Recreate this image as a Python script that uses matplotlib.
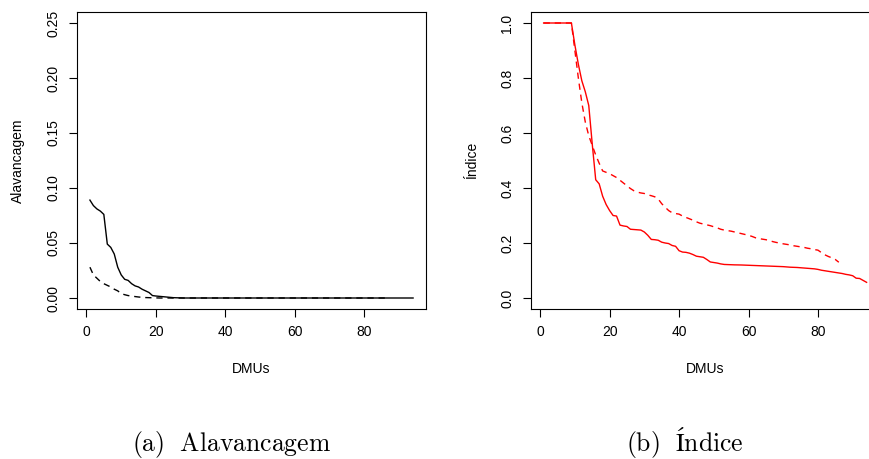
import matplotlib
matplotlib.use("Agg")
import matplotlib.pyplot as plt

plt.rcParams['font.family'] = ['Liberation Sans', 'DejaVu Sans']
plt.rcParams['mathtext.fontset'] = 'cm'

# ---------------- data ----------------
alav_solid = [0.089, 0.084, 0.081, 0.079, 0.076, 0.049, 0.046, 0.040, 0.028, 0.021,
              0.017, 0.016, 0.013, 0.011, 0.010, 0.008, 0.0065, 0.005, 0.0022, 0.0018,
              0.0015, 0.0012, 0.0009, 0.0006, 0.0003, 0.0002, 0.0001,
              0.0, 0.0, 0.0, 0.0, 0.0, 0.0, 0.0, 0.0, 0.0, 0.0,
              0.0, 0.0, 0.0, 0.0, 0.0, 0.0, 0.0, 0.0, 0.0, 0.0,
              0.0, 0.0, 0.0, 0.0, 0.0, 0.0, 0.0, 0.0, 0.0, 0.0,
              0.0, 0.0, 0.0, 0.0, 0.0, 0.0, 0.0, 0.0, 0.0, 0.0,
              0.0, 0.0, 0.0, 0.0, 0.0, 0.0, 0.0, 0.0, 0.0, 0.0,
              0.0, 0.0, 0.0, 0.0, 0.0, 0.0, 0.0, 0.0, 0.0, 0.0,
              0.0, 0.0, 0.0, 0.0, 0.0, 0.0, 0.0]
alav_dashed = [0.028, 0.021, 0.018, 0.015, 0.013, 0.0115, 0.010, 0.008, 0.0065, 0.004,
               0.003, 0.0022, 0.0018, 0.0013, 0.0009, 0.0006, 0.0004, 0.0003, 0.0002, 0.0001,
               0.0, 0.0, 0.0, 0.0, 0.0, 0.0, 0.0, 0.0, 0.0, 0.0,
               0.0, 0.0, 0.0, 0.0, 0.0, 0.0, 0.0, 0.0, 0.0, 0.0,
               0.0, 0.0, 0.0, 0.0, 0.0, 0.0, 0.0, 0.0, 0.0, 0.0,
               0.0, 0.0, 0.0, 0.0, 0.0, 0.0, 0.0, 0.0, 0.0, 0.0,
               0.0, 0.0, 0.0, 0.0, 0.0, 0.0, 0.0, 0.0, 0.0, 0.0,
               0.0, 0.0, 0.0, 0.0, 0.0, 0.0, 0.0, 0.0, 0.0, 0.0,
               0.0, 0.0, 0.0, 0.0, 0.0, 0.0]

ind_solid = [1.0, 1.0, 1.0, 1.0, 1.0, 1.0, 1.0, 1.0, 1.0,
             0.92, 0.85, 0.79, 0.75, 0.70, 0.56, 0.43, 0.415, 0.37, 0.34, 0.318,
             0.30, 0.298, 0.265, 0.262, 0.26, 0.25, 0.249, 0.248, 0.247, 0.24,
             0.228, 0.213, 0.212, 0.21, 0.203, 0.2, 0.198, 0.191, 0.188, 0.172,
             0.167, 0.166, 0.163, 0.158, 0.152, 0.15, 0.148, 0.14, 0.131, 0.129,
             0.127, 0.124, 0.122, 0.1215, 0.121, 0.1205, 0.1203, 0.12, 0.1195, 0.119,
             0.1185, 0.118, 0.1175, 0.117, 0.1165, 0.116, 0.1155, 0.115, 0.1145, 0.114,
             0.113, 0.112, 0.1115, 0.111, 0.110, 0.109, 0.108, 0.107, 0.106, 0.104,
             0.101, 0.099, 0.097, 0.095, 0.093, 0.091, 0.089, 0.086, 0.084, 0.081,
             0.072, 0.071, 0.064, 0.057]
ind_dashed = [1.0, 1.0, 1.0, 1.0, 1.0, 1.0, 1.0, 1.0, 1.0,
              0.90, 0.80, 0.71, 0.64, 0.59, 0.555, 0.52, 0.49, 0.462, 0.457, 0.452,
              0.445, 0.438, 0.428, 0.418, 0.408, 0.398, 0.39, 0.385, 0.382, 0.38,
              0.375, 0.372, 0.368, 0.36, 0.343, 0.33, 0.318, 0.31, 0.307, 0.305,
              0.298, 0.293, 0.288, 0.283, 0.277, 0.272, 0.269, 0.266, 0.263, 0.259,
              0.255, 0.25, 0.247, 0.245, 0.243, 0.24, 0.237, 0.234, 0.231, 0.228,
              0.224, 0.219, 0.216, 0.214, 0.212, 0.209, 0.205, 0.202, 0.2, 0.197,
              0.195, 0.193, 0.19, 0.188, 0.186, 0.184, 0.181, 0.179, 0.176, 0.174,
              0.165, 0.157, 0.151, 0.146, 0.14, 0.13]

xticks = [0, 20, 40, 60, 80]
yticks_a = [0.00, 0.05, 0.10, 0.15, 0.20, 0.25]
yticks_b = [0.0, 0.2, 0.4, 0.6, 0.8, 1.0]
xlabel = "DMUs"
ylabel_a = "Alavancagem"
ylabel_b = "Índice"
caption_a = r"$\mathrm{(a)\ \ Alavancagem}$"
caption_b = r"$\mathrm{(b)\ \ Índice}$"

# ---------------- figure ----------------
W, H = 870, 459
fig = plt.figure(figsize=(W / 100, H / 100), dpi=100)

def px_axes(left, top, right, bottom):
    return [left / W, 1 - bottom / H, (right - left) / W, (bottom - top) / H]

ax1 = fig.add_axes(px_axes(77, 12, 426, 309))
ax2 = fig.add_axes(px_axes(530.7, 12, 879.5, 309))

dash = (0, (4.5, 3.5))
lw = 1.0

x1s = list(range(1, len(alav_solid) + 1))
x1d = list(range(1, len(alav_dashed) + 1))
ax1.plot(x1d, alav_dashed, color='black', lw=lw, linestyle=dash)
ax1.plot(x1s, alav_solid, color='black', lw=lw)

x2s = list(range(1, len(ind_solid) + 1))
x2d = list(range(1, len(ind_dashed) + 1))
ax2.plot(x2d, ind_dashed, color='#FF0000', lw=lw, linestyle=dash)
ax2.plot(x2s, ind_solid, color='#FF0000', lw=lw)

def style(ax, yticks, ylim, ylabel, ylabfmt):
    n = 94
    pad = 0.04 * (n - 1)
    ax.set_xlim(1 - pad, n + pad)
    yr = ylim[1] - ylim[0]
    ax.set_ylim(ylim[0] - 0.04 * yr, ylim[1] + 0.04 * yr)
    ax.set_xticks(xticks)
    ax.set_xticklabels([str(t) for t in xticks])
    ax.set_yticks(yticks)
    ax.set_yticklabels([ylabfmt.format(t) for t in yticks], rotation=90, va='center')
    ax.tick_params(direction='out', length=5.5, width=0.8, labelsize=10,
                   colors='black')
    ax.tick_params(axis='x', pad=6)
    ax.tick_params(axis='y', pad=6.5)
    for s in ax.spines.values():
        s.set_linewidth(0.8)
    ax.set_xlabel(xlabel, fontsize=10)
    ax.xaxis.set_label_coords(0.5, -0.202)
    ax.xaxis.label.set_va('center')
    ax.set_ylabel(ylabel, fontsize=10)
    ax.yaxis.set_label_coords(-0.169, 0.5)
    ax.yaxis.label.set_va('center')

style(ax1, yticks_a, (0, 0.25), ylabel_a, "{:.2f}")
style(ax2, yticks_b, (0, 1.0), ylabel_b, "{:.1f}")

fig.text(232 / W, 1 - 451 / H, caption_a, ha='center', va='baseline', fontsize=18.5)
fig.text(685 / W, 1 - 451 / H, caption_b, ha='center', va='baseline', fontsize=18.5)

fig.savefig("out.png", dpi=100)
